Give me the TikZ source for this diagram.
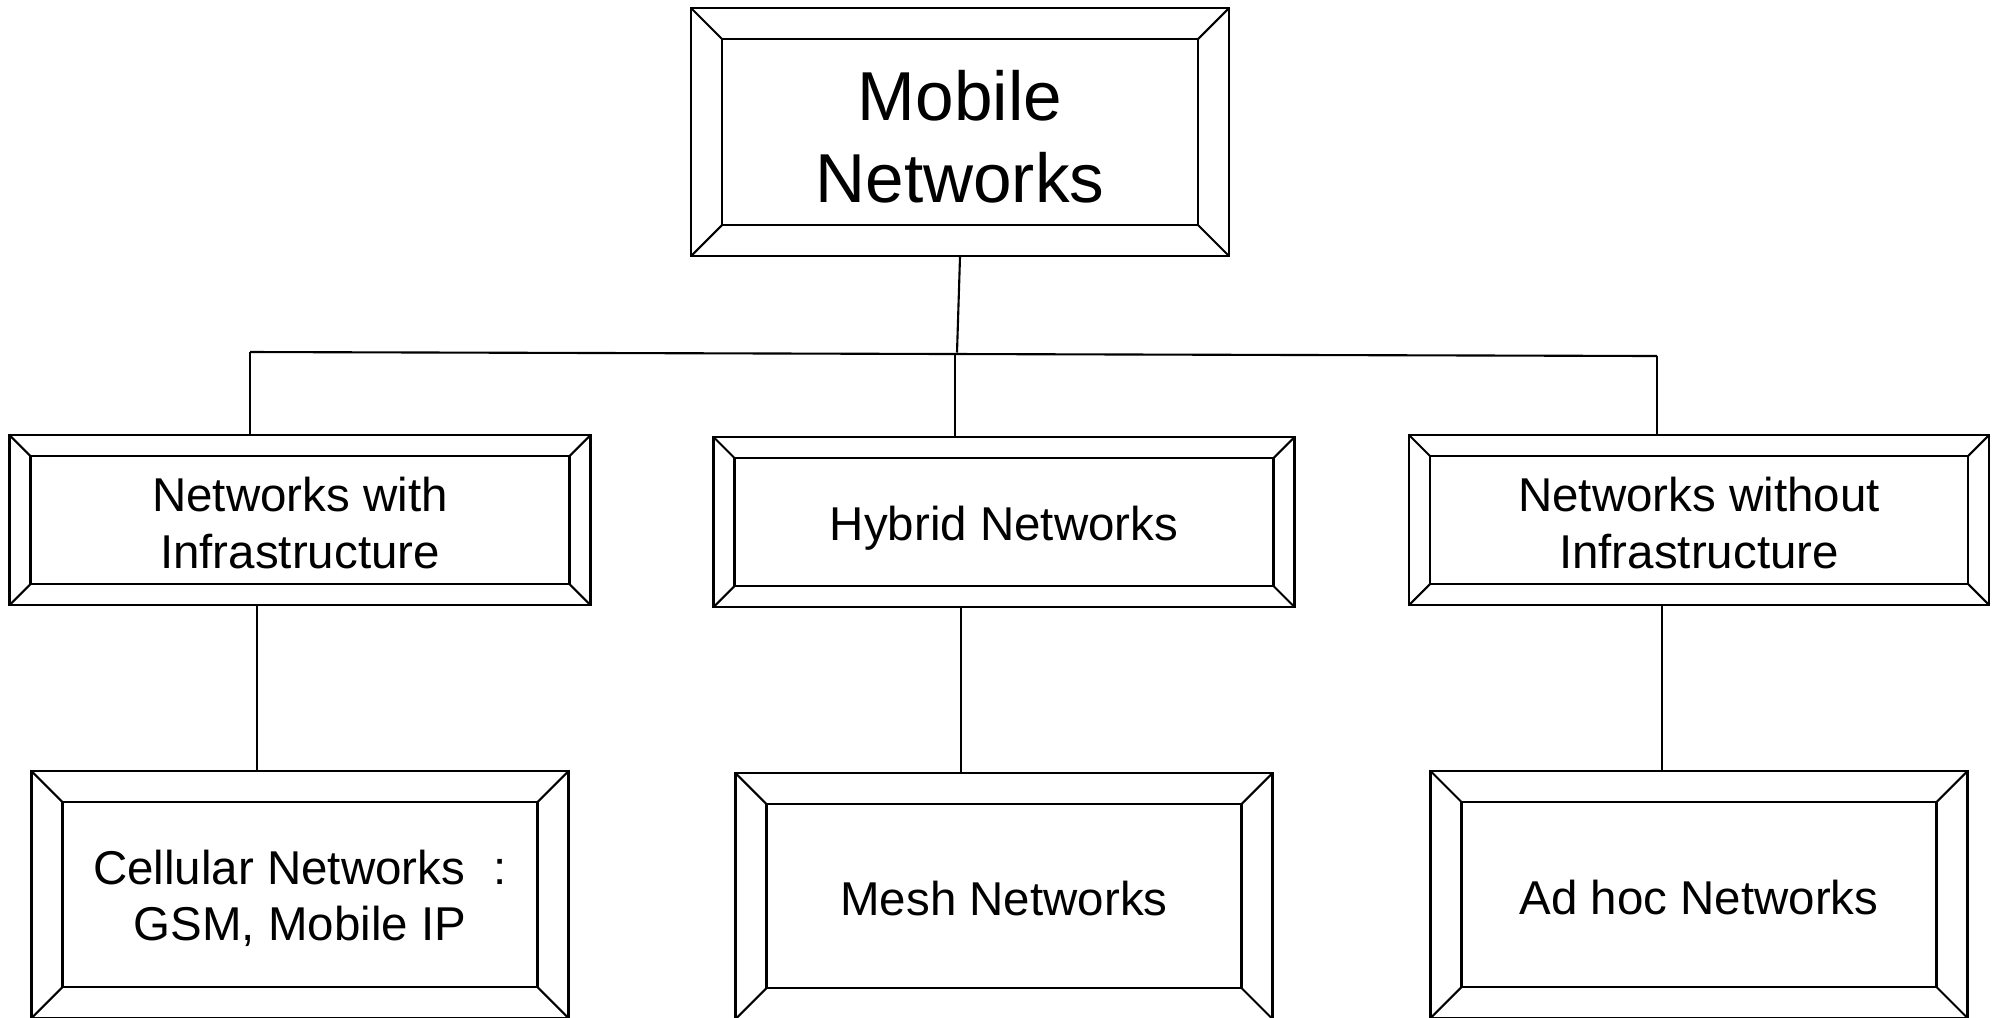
\documentclass[tikz,border=0pt]{standalone}
\usepackage{fontspec}
\setmainfont{Liberation Sans}
\begin{document}
\begin{tikzpicture}[x=0.01cm,y=-0.01cm,line width=0.6pt,
  % framed box with a bevelled border: width/height/bevel in 0.01cm units
  bevelbox/.style args={#1/#2/#3}{draw, line width=0.6pt, inner sep=0pt,
    minimum width=#1*0.01cm, minimum height=#2*0.01cm,
    path picture={
      \def\bv{#3*0.01cm}
      \draw[line width=0.6pt] ([shift={(\bv,\bv)}]path picture bounding box.south west)
        rectangle ([shift={(-\bv,-\bv)}]path picture bounding box.north east);
      \draw[line width=0.6pt] (path picture bounding box.south west) -- ++(\bv,\bv);
      \draw[line width=0.6pt] (path picture bounding box.north west) -- ++(\bv,-\bv);
      \draw[line width=0.6pt] (path picture bounding box.north east) -- ++(-\bv,-\bv);
      \draw[line width=0.6pt] (path picture bounding box.south east) -- ++(-\bv,\bv);
    }},
  boxlabel/.style={inner sep=0pt, align=center},
  bigtext/.style={boxlabel, font=\fontsize{19.7}{23.2}\selectfont},
  smalltext/.style={boxlabel, font=\fontsize{13.5}{16}\selectfont}]

\useasboundingbox (0,0) rectangle (2000,1017);

% root
\node[bevelbox=538/248/31] (top) at (960,132) {};
\node[bigtext] (top-t) at ([yshift=-0.05cm]top.center) {Mobile\\Networks};

% second level
\node[bevelbox=581/170/21] (mL) at (300,520) {};
\node[bevelbox=581/170/21] (mM) at (1004,522) {};
\node[bevelbox=580/170/21] (mR) at (1699,520) {};
\node[smalltext] (mL-t) at ([yshift=-0.03cm]mL.center) {Networks with\\Infrastructure};
\node[smalltext] (mM-t) at ([yshift=-0.06cm]mM.center) {Hybrid Networks};
\node[smalltext] (mR-t) at ([yshift=-0.03cm]mR.center) {Networks without\\Infrastructure};

% third level
\node[bevelbox=537/247/31] (bL) at (300,894.5) {};
\node[bevelbox=537/246/31] (bM) at (1004,896) {};
\node[bevelbox=537/247/31] (bR) at (1699,894.5) {};
\node[smalltext] (bL-t) at ([yshift=-0.04cm]bL.center) {Cellular Networks\hspace{0.6em}:\\GSM, Mobile IP};
\node[smalltext] (bM-t) at ([yshift=-0.03cm]bM.center) {Mesh Networks};
\node[smalltext] (bR-t) at ([yshift=-0.03cm]bR.center) {Ad hoc Networks};

% bus below the root
\coordinate (busM) at (957,352.5);
\coordinate (busL) at (250,352);
\coordinate (busR) at (1657,356);
\coordinate (busC) at (955,355);
\draw (top.south) -- (busM);
\draw (busL) -- (busR);
\draw (busL) -- (busL |- mL.north);
\draw (busC) -- (busC |- mM.north);
\draw (busR) -- (busR |- mR.north);

% links to the third level
\coordinate (dL) at (257,605);
\coordinate (dM) at (961,607);
\coordinate (dR) at (1662,605);
\draw (dL) -- (dL |- bL.north);
\draw (dM) -- (dM |- bM.north);
\draw (dR) -- (dR |- bR.north);
\end{tikzpicture}
\end{document}
